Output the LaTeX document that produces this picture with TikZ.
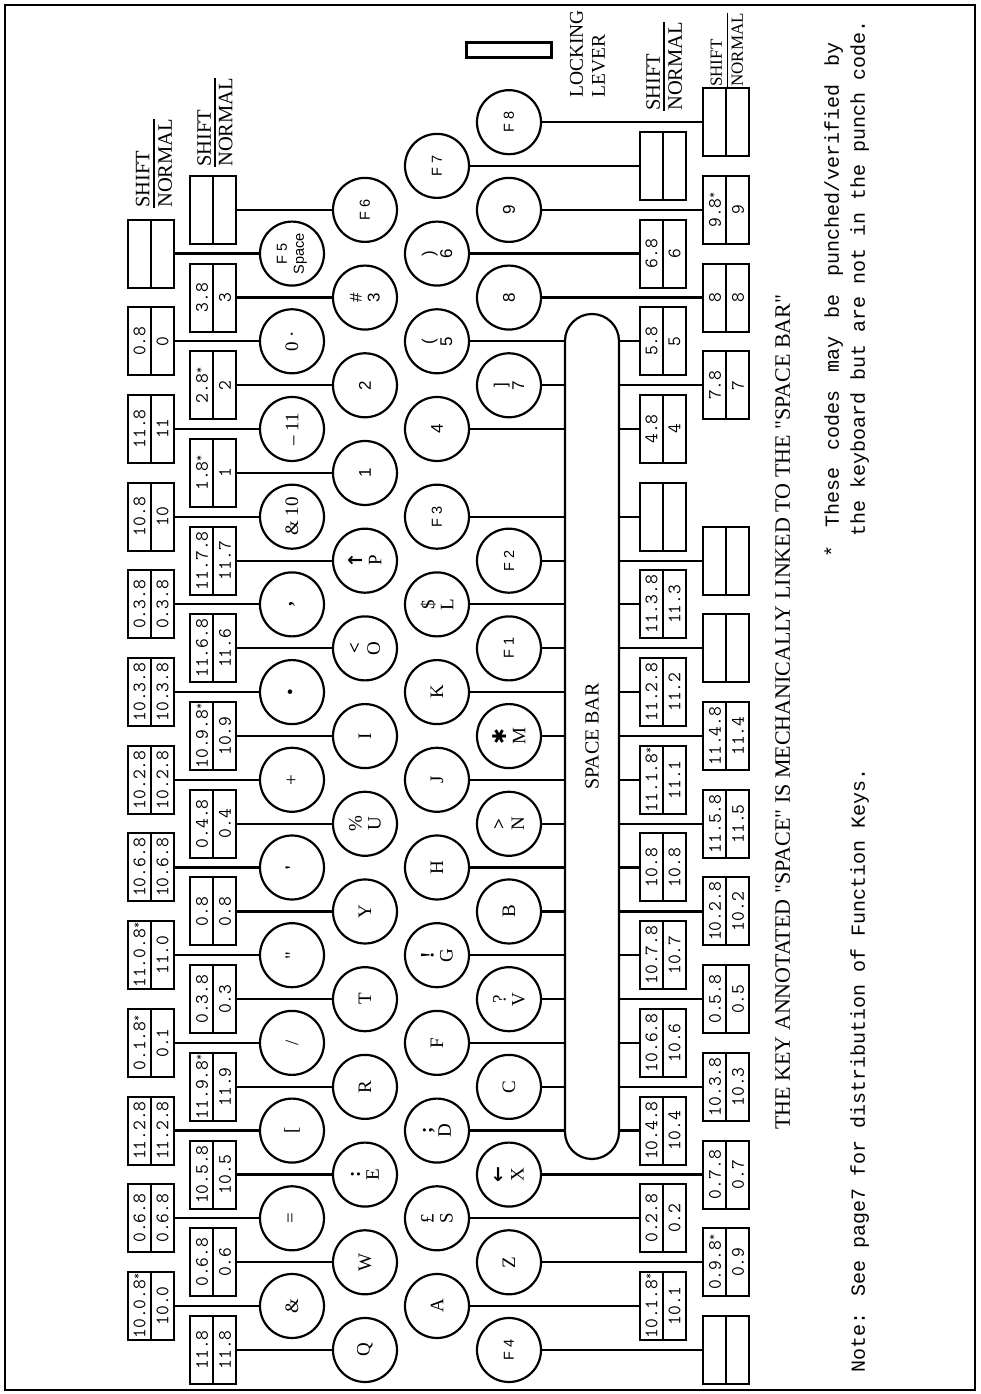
\documentclass[tikz,border=0pt]{standalone}
\usepackage{fontspec}
\usetikzlibrary{shapes.multipart,calc}
\newfontfamily\serifk{Liberation Serif}
\newfontfamily\sansk{Liberation Sans}
\newfontfamily\monok{Liberation Mono}
\newfontfamily\symk{DejaVu Sans}
\newcommand\cell[1]{\parbox[c][21pt][c]{68pt}{\centering #1}}
\newcommand\emp{\phantom{0}}
\newcommand\sa{{\fontsize{12}{12}\selectfont\raisebox{5pt}{*}}}
% name, X, key Y, box Y, style, label, top code, bottom code
\newcommand\topkey[8]{%
  \node[#5] (k#1) at (#2,#3) {#6};
  \node[codebox] (b#1) at (#2,#4) {\cell{#7}\nodepart{two}\cell{#8}};
  \draw[link] (b#1.south) -- (k#1.north);}
\newcommand\botkey[8]{%
  \node[#5] (k#1) at (#2,#3) {#6};
  \node[codebox] (b#1) at (#2,#4) {\cell{#7}\nodepart{two}\cell{#8}};
  \draw[link] (k#1.south) -- (b#1.north);}
\newcommand\sbkey[8]{%
  \node[#5] (k#1) at (#2,#3) {#6};
  \node[codebox] (b#1) at (#2,#4) {\cell{#7}\nodepart{two}\cell{#8}};
  \draw[link] (k#1.south) -- (k#1.south |- sb.north);
  \draw[link] (k#1.south |- sb.south) -- (b#1.north);}
\begin{document}
\begin{tikzpicture}[rotate=90, transform shape, x=1pt, y=1pt,
  kbkey/.style={circle, draw, line width=2.2pt, minimum size=64pt, inner sep=0pt, align=center, font=\serifk\fontsize{19}{19}\selectfont},
  kbdig/.style={kbkey, font=\sansk\fontsize{17}{18}\selectfont},
  kbf/.style={kbkey, font=\sansk\fontsize{14.5}{17}\selectfont},
  codebox/.style={draw, line width=2pt, rectangle split, rectangle split parts=2, inner sep=0pt, font=\ttfamily\fontsize{19}{19}\selectfont},
  link/.style={line width=2.2pt},
  caplab/.style={font=\serifk\fontsize{20.5}{22}\selectfont, inner sep=0pt, anchor=base west},
  notetxt/.style={font=\monok\fontsize{20}{22}\selectfont, inner sep=0pt, anchor=base west},
  barline/.style={line width=1.6pt}]
\useasboundingbox (0,0) rectangle (1394,980);
\draw[line width=2.5pt] (4,5) rectangle (1389,975);
\node[draw, line width=2.2pt, rounded corners=27pt, minimum width=845pt, minimum height=54pt, inner sep=0pt, font=\serifk\fontsize{20}{22}\selectfont] (sb) at (657.5,388) {SPACE BAR};
% number row
\topkey{a0}{88}{688}{829}{kbkey}{\&}{10.0.8\sa}{10.0}
\topkey{a1}{175.7}{688}{829}{kbkey}{=}{0.6.8}{0.6.8}
\topkey{a2}{263.4}{688}{829}{kbkey}{[}{11.2.8}{11.2.8}
\topkey{a3}{351.1}{688}{829}{kbkey}{/}{0.1.8\sa}{0.1}
\topkey{a4}{438.8}{688}{829}{kbkey}{"}{11.0.8\sa}{11.0}
\topkey{a5}{526.5}{688}{829}{kbkey}{\textbf{\symbol{39}}}{10.6.8}{10.6.8}
\topkey{a6}{614.2}{688}{829}{kbkey}{+}{10.2.8}{10.2.8}
\topkey{a7}{701.9}{688}{829}{kbkey}{•}{10.3.8}{10.3.8}
\topkey{a8}{789.6}{688}{829}{kbkey}{\textbf{,}}{0.3.8}{0.3.8}
\topkey{a9}{877.3}{688}{829}{kbkey}{\& 10}{10.8}{10}
\topkey{a10}{965}{688}{829}{kbkey}{– 11}{11.8}{11}
\topkey{a11}{1052.7}{688}{829}{kbkey}{0 ·}{0.8}{0}
\topkey{a12}{1140.4}{688}{829}{kbf}{F 5\\Space}{\emp}{\emp}
% Q row
\topkey{q0}{44}{615}{766.5}{kbkey}{Q}{11.8}{11.8}
\topkey{q1}{131.7}{615}{766.5}{kbkey}{W}{0.6.8}{0.6}
\topkey{q2}{219.4}{615}{766.5}{kbkey}{\textbf{:}\\E}{10.5.8}{10.5}
\topkey{q3}{307.1}{615}{766.5}{kbkey}{R}{11.9.8\sa}{11.9}
\topkey{q4}{394.8}{615}{766.5}{kbkey}{T}{0.3.8}{0.3}
\topkey{q5}{482.5}{615}{766.5}{kbkey}{Y}{0.8}{0.8}
\topkey{q6}{570.2}{615}{766.5}{kbkey}{\%\\U}{0.4.8}{0.4}
\topkey{q7}{657.9}{615}{766.5}{kbkey}{I}{10.9.8\sa}{10.9}
\topkey{q8}{745.6}{615}{766.5}{kbkey}{\textbf{<}\\O}{11.6.8}{11.6}
\topkey{q9}{833.3}{615}{766.5}{kbkey}{{\symk\bfseries ↑}\\P}{11.7.8}{11.7}
\topkey{q10}{921}{615}{766.5}{kbdig}{1}{1.8\sa}{1}
\topkey{q11}{1008.7}{615}{766.5}{kbdig}{2}{2.8\sa}{2}
\topkey{q12}{1096.4}{615}{766.5}{kbdig}{\#\\3}{3.8}{3}
\topkey{q13}{1184.1}{615}{766.5}{kbf}{F 6}{\emp}{\emp}
% A row
\botkey{s0}{88}{543}{317}{kbkey}{A}{10.1.8\sa}{10.1}
\botkey{s1}{175.7}{543}{317}{kbkey}{£\\S}{0.2.8}{0.2}
\sbkey{s2}{263.4}{543}{317}{kbkey}{\textbf{;}\\D}{10.4.8}{10.4}
\sbkey{s3}{351.1}{543}{317}{kbkey}{F}{10.6.8}{10.6}
\sbkey{s4}{438.8}{543}{317}{kbkey}{\textbf{!}\\G}{10.7.8}{10.7}
\sbkey{s5}{526.5}{543}{317}{kbkey}{H}{10.8}{10.8}
\sbkey{s6}{614.2}{543}{317}{kbkey}{J}{11.1.8\sa}{11.1}
\sbkey{s7}{701.9}{543}{317}{kbkey}{K}{11.2.8}{11.2}
\sbkey{s8}{789.6}{543}{317}{kbkey}{\$\\L}{11.3.8}{11.3}
\sbkey{s9}{877.3}{543}{317}{kbf}{F 3}{\emp}{\emp}
\sbkey{s10}{965}{543}{317}{kbdig}{4}{4.8}{4}
\sbkey{s11}{1052.7}{543}{317}{kbdig}{(\\5}{5.8}{5}
\botkey{s12}{1140.4}{543}{317}{kbdig}{)\\6}{6.8}{6}
\botkey{s13}{1228.1}{543}{317}{kbf}{F 7}{\emp}{\emp}
% Z row
\botkey{z0}{44}{471}{253.5}{kbf}{F 4}{\emp}{\emp}
\botkey{z1}{131.7}{471}{253.5}{kbkey}{Z}{0.9.8\sa}{0.9}
\botkey{z2}{219.4}{471}{253.5}{kbkey}{{\symk\bfseries ←}\\X}{0.7.8}{0.7}
\sbkey{z3}{307.1}{471}{253.5}{kbkey}{C}{10.3.8}{10.3}
\sbkey{z4}{394.8}{471}{253.5}{kbkey}{?\\V}{0.5.8}{0.5}
\sbkey{z5}{482.5}{471}{253.5}{kbkey}{B}{10.2.8}{10.2}
\sbkey{z6}{570.2}{471}{253.5}{kbkey}{\textbf{>}\\N}{11.5.8}{11.5}
\sbkey{z7}{657.9}{471}{253.5}{kbkey}{{\symk ✱}\\M}{11.4.8}{11.4}
\sbkey{z8}{745.6}{471}{253.5}{kbf}{F 1}{\emp}{\emp}
\sbkey{z9}{833.3}{471}{253.5}{kbf}{F 2}{\emp}{\emp}
\sbkey{z11}{1008.7}{471}{253.5}{kbdig}{]\\7}{7.8}{7}
\botkey{z12}{1096.4}{471}{253.5}{kbdig}{8}{8}{8}
\botkey{z13}{1184.1}{471}{253.5}{kbdig}{9}{9.8\sa}{9}
\botkey{z14}{1271.8}{471}{253.5}{kbf}{F 8}{\emp}{\emp}
% shift / normal labels
\node[caplab] (sh5) at (1186,830.5) {SHIFT};
\node[caplab] (nm5) at (1186,808) {NORMAL};
\draw[barline] ($(nm5.north west)!-4pt!(nm5.south west)$) -- ($(nm5.north east)!-4pt!(nm5.south east)$);
\node[caplab] (sh6) at (1227,769) {SHIFT};
\node[caplab] (nm6) at (1227,747.5) {NORMAL};
\draw[barline] ($(nm6.north west)!-4pt!(nm6.south west)$) -- ($(nm6.north east)!-4pt!(nm6.south east)$);
\node[caplab] (sh7) at (1283,320) {SHIFT};
\node[caplab] (nm7) at (1283,298) {NORMAL};
\draw[barline] ($(nm7.north west)!-4pt!(nm7.south west)$) -- ($(nm7.north east)!-4pt!(nm7.south east)$);
\node[caplab, font=\serifk\fontsize{17}{19}\selectfont] (sh8) at (1307,258) {SHIFT};
\node[caplab, font=\serifk\fontsize{17}{19}\selectfont] (nm8) at (1307,237) {NORMAL};
\draw[barline] ($(nm8.north west)!-4pt!(nm8.south west)$) -- ($(nm8.north east)!-4pt!(nm8.south east)$);
% locking lever
\node[draw, line width=3pt, minimum width=15pt, minimum height=85pt, inner sep=0pt] (lever) at (1344,471) {};
\node[caplab, font=\serifk\fontsize{19.5}{22}\selectfont] (lk1) at (1296,397) {LOCKING};
\node[caplab, font=\serifk\fontsize{19.5}{22}\selectfont] (lk2) at (1296,375) {LEVER};
% notes
\node[caplab, font=\serifk\fontsize{22}{24}\selectfont] (cap) at (264,190) {THE KEY ANNOTATED "SPACE" IS MECHANICALLY LINKED TO THE "SPACE BAR"};
\node[notetxt] (n1) at (836,141) {\hbox to 515pt{*\hfill These\hfill codes\hfill may\hfill be\hfill punched/verified\hfill by}};
\node[notetxt] (n2) at (857,115) {the keyboard but are not in the punch code.};
\node[notetxt] (n3) at (21,115) {Note: See page7 for distribution of Function Keys.};
\end{tikzpicture}
\end{document}
